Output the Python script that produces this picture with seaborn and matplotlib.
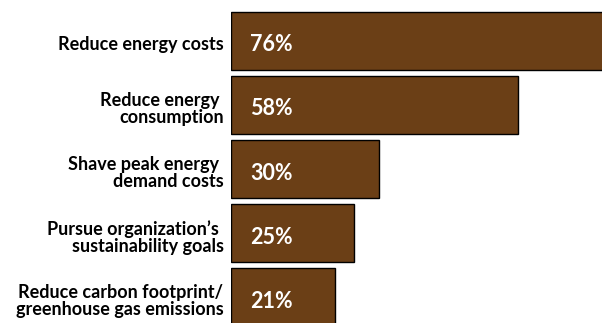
import matplotlib
matplotlib.use("Agg")
import matplotlib.pyplot as plt
import matplotlib.transforms as mtransforms
import seaborn as sns
import pandas as pd

categories = [
    "Reduce energy costs",
    "Reduce energy \nconsumption",
    "Shave peak energy \ndemand costs",
    "Pursue organization\u2019s \nsustainability goals",
    "Reduce carbon footprint/\ngreenhouse gas emissions",
]
values = [76, 58, 30, 25, 21]
value_labels = ["76%", "58%", "30%", "25%", "21%"]

df = pd.DataFrame({"reason": categories, "pct": values})

sns.set_style("white")
plt.rcParams["font.family"] = ["Lato", "DejaVu Sans"]

fig = plt.figure(figsize=(6.02, 3.23), dpi=100)
ax = fig.add_axes([230.5 / 602, 0, 371.5 / 602, 1])

sns.barplot(data=df, y="reason", x="pct", orient="h", color="#6b3f16",
            saturation=1, edgecolor="black", linewidth=1, width=0.91, ax=ax)

ax.set_xlim(0, 75)
ax.set_ylim(4.40, -0.636)
ax.set_xlabel("")
ax.set_ylabel("")
ax.set_xticks([])
ax.set_yticks([])
for s in ax.spines.values():
    s.set_visible(False)

down = mtransforms.ScaledTranslation(0, -4 / 100, fig.dpi_scale_trans)
lab_tr = mtransforms.blended_transform_factory(ax.transAxes, ax.transData)

for i, (cat, lab) in enumerate(zip(categories, value_labels)):
    ax.text(4, i, lab, color="white", fontsize=15.5, fontweight="bold",
            ha="left", va="center", transform=ax.transData + down)
    ax.text(-7 / 371.5, i, cat, color="black", fontsize=13, fontweight="bold",
            ha="right", va="center", multialignment="right", linespacing=1.0,
            transform=lab_tr + down, clip_on=False)

fig.savefig("out.png", dpi=100)
